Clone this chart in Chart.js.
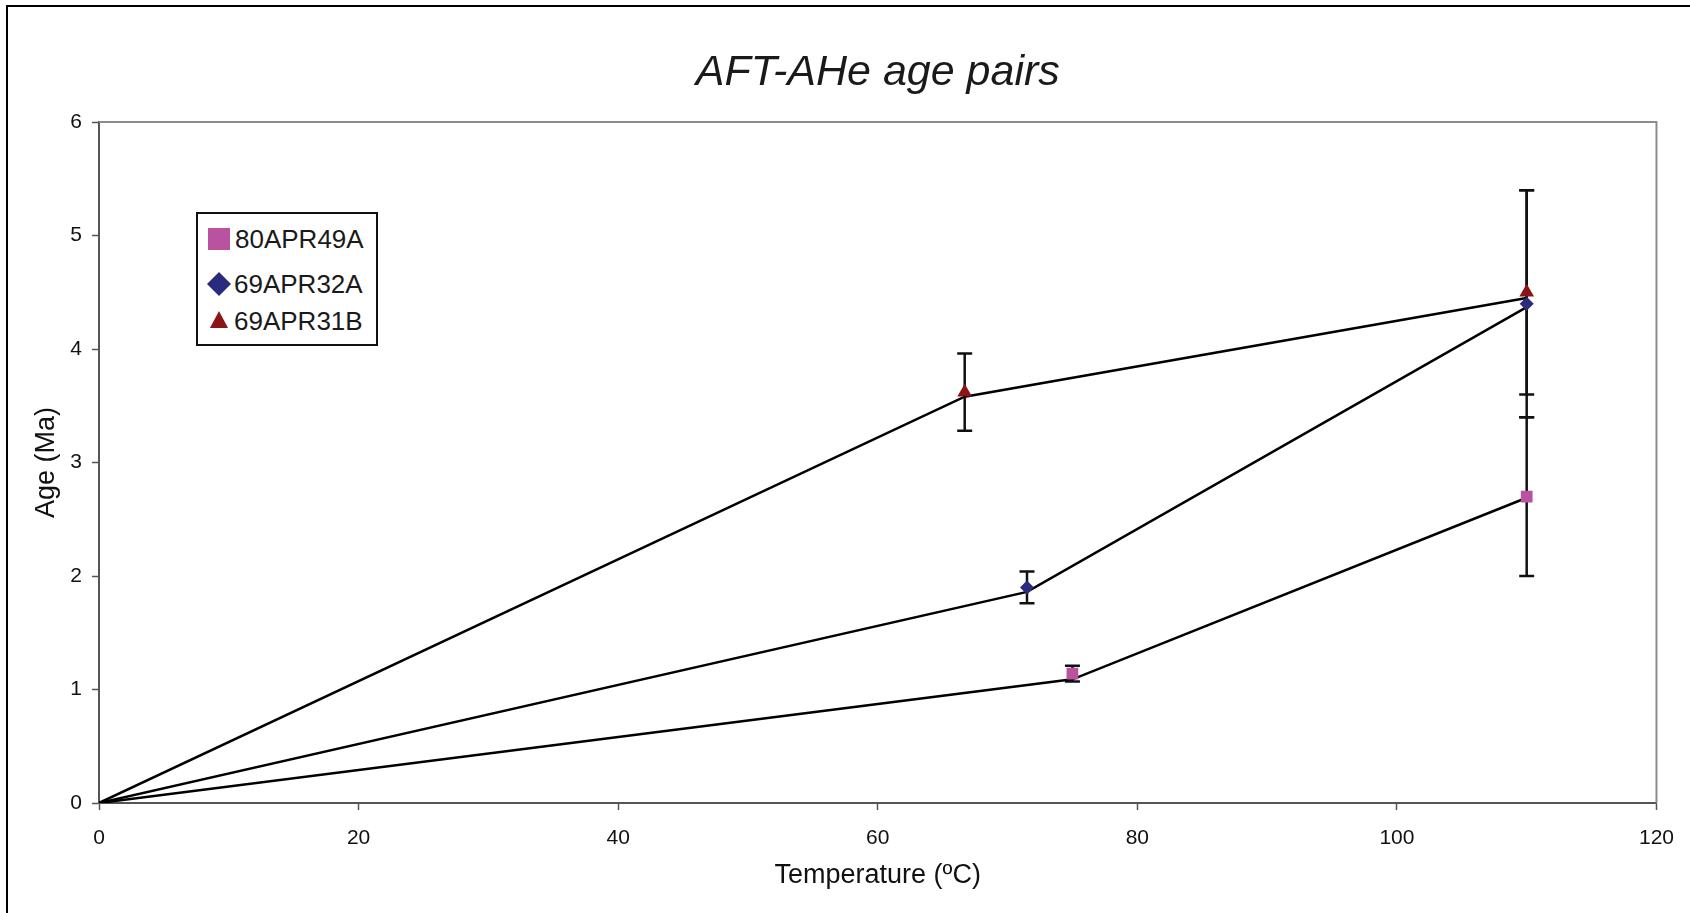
<!DOCTYPE html>
<html>
<head>
<meta charset="utf-8">
<script src="https://cdn.jsdelivr.net/npm/chart.js@4.4.0/dist/chart.umd.min.js"></script>
<style>
html,body{margin:0;padding:0;background:#fff;}
#wrap{position:relative;width:1690px;height:913px;overflow:hidden;background:#fff;}
#c{position:absolute;left:0;top:0;}
#frame{position:absolute;left:6px;top:5px;width:1700px;height:1000px;border-left:2px solid #000;border-top:2px solid #000;pointer-events:none;}
#legend{position:absolute;left:196px;top:212px;width:178px;height:130px;border:2px solid #111;background:#fff;font-family:"Liberation Sans",Arial,sans-serif;font-size:26px;line-height:26px;color:#1a1a1a;}
#legend span{position:absolute;white-space:nowrap;}
#legend svg{position:absolute;}
</style>
</head>
<body>
<div id="wrap">
  <canvas id="c" width="1690" height="913"></canvas>
  <div id="frame"></div>
  <div id="legend">
    <svg style="left:10px;top:14px" width="22" height="22"><rect x="0" y="0" width="22" height="22" fill="#B9529F"/></svg>
    <span style="left:37px;top:12px">80APR49A</span>
    <svg style="left:9px;top:58px" width="24" height="24"><polygon points="12,0 24,12 12,24 0,12" fill="#2B2B7D"/></svg>
    <span style="left:36px;top:57px">69APR32A</span>
    <svg style="left:12px;top:97px" width="18" height="17"><polygon points="9,0 18,17 0,17" fill="#8A1518"/></svg>
    <span style="left:36px;top:94px">69APR31B</span>
  </div>
</div>
<script>
// ---- data ----
const seriesNames = ['80APR49A', '69APR32A', '69APR31B'];
// sample points with error bars
const temps80 = [75, 110];
const ages80  = [1.14, 2.7];
const errs80  = [0.07, 0.7];
const temps32 = [71.5, 110];
const ages32  = [1.9, 4.4];
const errs32  = [0.14, 1.0];
const temps31 = [66.7, 110];
const ages31  = [3.62, 4.5];
const errs31  = [0.34, 0.9];
// connecting lines from the origin
const line80T = [0, 75, 110];
const line80A = [0, 1.09, 2.69];
const line32T = [0, 71.5, 110];
const line32A = [0, 1.86, 4.37];
const line31T = [0, 66.7, 110];
const line31A = [0, 3.58, 4.45];
// ticks
const xTicks = [0, 20, 40, 60, 80, 100, 120];
const yTicks = [0, 1, 2, 3, 4, 5, 6];

const FONT = '"Liberation Sans", Arial, sans-serif';
const pts = (xs, ys) => xs.map((v, i) => ({x: v, y: ys[i]}));

const errorBars = {
  id: 'errorBars',
  beforeDatasetsDraw(chart) {
    const {ctx, scales: {x, y}} = chart;
    ctx.save();
    ctx.strokeStyle = '#111';
    ctx.lineWidth = 2.5;
    chart.data.datasets.forEach(ds => {
      if (!ds.errors) return;
      ds.data.forEach((p, i) => {
        const e = ds.errors[i];
        const px = x.getPixelForValue(p.x);
        const t = y.getPixelForValue(p.y + e);
        const b = y.getPixelForValue(p.y - e);
        ctx.beginPath();
        ctx.moveTo(px, t); ctx.lineTo(px, b);
        ctx.moveTo(px - 7.5, t); ctx.lineTo(px + 7.5, t);
        ctx.moveTo(px - 7.5, b); ctx.lineTo(px + 7.5, b);
        ctx.stroke();
      });
    });
    ctx.restore();
  }
};

const plotFrame = {
  id: 'plotFrame',
  beforeDatasetsDraw(chart) {
    const {ctx, chartArea: a} = chart;
    ctx.save();
    ctx.strokeStyle = '#8c8c8c';
    ctx.lineWidth = 2;
    ctx.beginPath();
    ctx.moveTo(a.left, a.top);
    ctx.lineTo(a.right, a.top);
    ctx.lineTo(a.right, a.bottom);
    ctx.stroke();
    ctx.restore();
  }
};

const markerDs = (label, xs, ys, es, color, style, r) => ({
  label, data: pts(xs, ys), errors: es, showLine: false,
  pointStyle: style, pointRadius: r, pointHoverRadius: r,
  backgroundColor: color, borderColor: color, pointBorderWidth: 0
});
const lineDs = (label, xs, ys) => ({
  label, data: pts(xs, ys), showLine: true, pointRadius: 0,
  borderColor: '#000', borderWidth: 2.5, fill: false, tension: 0
});

new Chart(document.getElementById('c'), {
  type: 'scatter',
  data: {
    datasets: [
      markerDs(seriesNames[0], temps80, ages80, errs80, '#B9529F', 'rect', 8.3),
      markerDs(seriesNames[1], temps32, ages32, errs32, '#2B2B7D', 'rectRot', 7),
      markerDs(seriesNames[2], temps31, ages31, errs31, '#8A1518', 'triangle', 8.5),
      lineDs(seriesNames[0] + ' line', line80T, line80A),
      lineDs(seriesNames[1] + ' line', line32T, line32A),
      lineDs(seriesNames[2] + ' line', line31T, line31A)
    ]
  },
  options: {
    responsive: false,
    animation: false,
    events: [],
    layout: {padding: {left: 0, top: 0, right: 32, bottom: 0}},
    plugins: {
      legend: {display: false},
      tooltip: {enabled: false},
      title: {
        display: true, text: 'AFT-AHe age pairs', fullSize: false,
        color: '#1a1a1a',
        font: {family: FONT, size: 43, style: 'italic', weight: 'normal'},
        padding: {top: 47, bottom: 23.5}
      }
    },
    scales: {
      x: {
        type: 'linear', min: 0, max: 120,
        afterBuildTicks: s => { s.ticks = xTicks.map(v => ({value: v})); },
        ticks: {font: {family: FONT, size: 21}, color: '#111', padding: 16, maxRotation: 0},
        grid: {display: true, drawOnChartArea: false, drawTicks: true, tickLength: 7, tickColor: '#555', tickWidth: 1.5},
        border: {display: true, color: '#555', width: 2},
        title: {display: true, text: 'Temperature (ºC)', color: '#111',
                font: {family: FONT, size: 27}, padding: {top: 0, bottom: 21}},
        afterFit: s => { s.height = 110; }
      },
      y: {
        type: 'linear', min: 0, max: 6,
        afterBuildTicks: s => { s.ticks = yTicks.map(v => ({value: v})); },
        ticks: {font: {family: FONT, size: 21}, color: '#111', padding: 10},
        grid: {display: true, drawOnChartArea: false, drawTicks: true, tickLength: 7, tickColor: '#555', tickWidth: 1.5},
        border: {display: true, color: '#555', width: 2},
        title: {display: true, text: 'Age (Ma)', color: '#111',
                font: {family: FONT, size: 27}, padding: {top: 30, bottom: 0}},
        afterFit: s => { s.width = 99; }
      }
    }
  },
  plugins: [plotFrame, errorBars]
});
</script>
</body>
</html>
